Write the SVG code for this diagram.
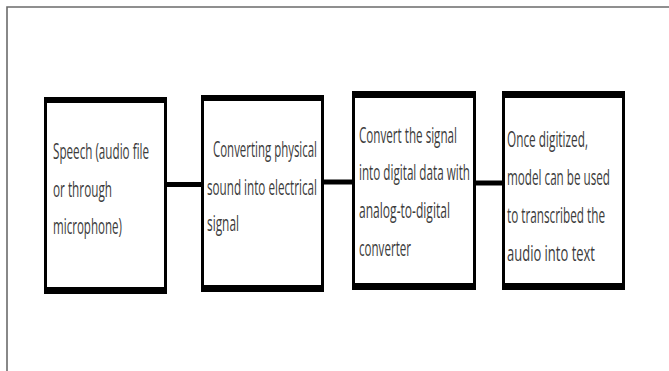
<svg xmlns="http://www.w3.org/2000/svg" width="669" height="371" viewBox="0 0 669 371">
  <style>
    .frame { fill: none; stroke: #6b6b6b; stroke-width: 1.6; }
    .outer { fill: #000; }
    .inner { fill: #fff; }
    .wire { stroke: #000; stroke-width: 5; fill: none; }
    .label { font-family: "Open Sans", "Noto Sans", "Liberation Sans", sans-serif; font-size: 22px; fill: #3c3c3c; }
  </style>

  <rect width="669" height="371" fill="#fff"/>

  <!-- page frame: top and left edges only -->
  <path class="frame" d="M7 371 V7 H669"/>

  <!-- connectors between stages -->
  <g id="connectors">
    <line class="wire" x1="166" y1="184.5" x2="202" y2="184.5"/>
    <line class="wire" x1="323" y1="182" x2="353" y2="182"/>
    <line class="wire" x1="475" y1="183" x2="503" y2="183" stroke-width="4"/>
  </g>

  <!-- stage 1 -->
  <g id="speech-input">
    <rect class="outer" x="44" y="97" width="123" height="197"/>
    <rect class="inner" x="47" y="103" width="117" height="184"/>
    <text class="label" x="53" y="159" textLength="96" lengthAdjust="spacingAndGlyphs">Speech (audio file</text>
    <text class="label" x="53" y="197" textLength="59" lengthAdjust="spacingAndGlyphs">or through</text>
    <text class="label" x="53" y="234" textLength="69" lengthAdjust="spacingAndGlyphs">microphone)</text>
  </g>

  <!-- stage 2 -->
  <g id="transducer">
    <rect class="outer" x="201" y="95" width="123" height="197"/>
    <rect class="inner" x="204" y="101" width="117" height="184"/>
    <text class="label" x="213" y="157" textLength="104" lengthAdjust="spacingAndGlyphs">Converting physical</text>
    <text class="label" x="207" y="195" textLength="110" lengthAdjust="spacingAndGlyphs">sound into electrical</text>
    <text class="label" x="207" y="231" textLength="32" lengthAdjust="spacingAndGlyphs">signal</text>
  </g>

  <!-- stage 3 -->
  <g id="adc">
    <rect class="outer" x="352" y="91" width="124" height="199"/>
    <rect class="inner" x="355" y="98" width="118" height="185"/>
    <text class="label" x="359" y="143" textLength="98" lengthAdjust="spacingAndGlyphs">Convert the signal</text>
    <text class="label" x="359" y="180" textLength="111" lengthAdjust="spacingAndGlyphs">into digital data with</text>
    <text class="label" x="359" y="218" textLength="91" lengthAdjust="spacingAndGlyphs">analog-to-digital</text>
    <text class="label" x="359" y="256" textLength="52" lengthAdjust="spacingAndGlyphs">converter</text>
  </g>

  <!-- stage 4 -->
  <g id="transcription">
    <rect class="outer" x="502" y="91" width="123" height="199"/>
    <rect class="inner" x="505" y="98" width="117" height="185"/>
    <text class="label" x="507" y="147" textLength="81" lengthAdjust="spacingAndGlyphs">Once digitized,</text>
    <text class="label" x="507" y="185" textLength="103" lengthAdjust="spacingAndGlyphs">model can be used</text>
    <text class="label" x="507" y="223" textLength="98" lengthAdjust="spacingAndGlyphs">to transcribed the</text>
    <text class="label" x="507" y="261" textLength="88" lengthAdjust="spacingAndGlyphs">audio into text</text>
  </g>
</svg>
